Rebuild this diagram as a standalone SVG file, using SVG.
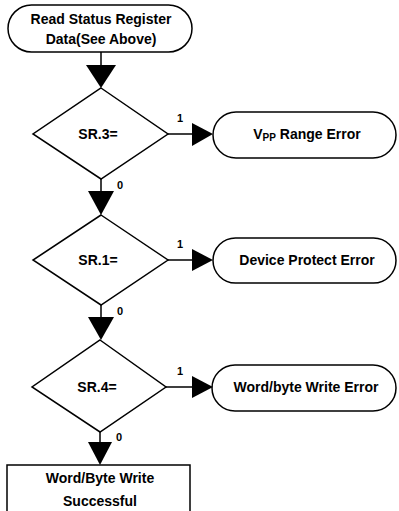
<svg xmlns="http://www.w3.org/2000/svg" width="399" height="511" viewBox="0 0 399 511">
<style>
.s{fill:none;stroke:#000;stroke-width:1.5}
.h{fill:#000;stroke:none}
text{font-family:"Liberation Sans",Arial,sans-serif;font-weight:bold;font-size:14px;fill:#000;text-anchor:middle}
.l{font-size:11px;text-anchor:start}
</style>
<rect width="399" height="511" fill="#fff"/>
<g id="start"><rect class="s" x="8" y="5" width="184" height="47" rx="23.5"/><text x="101" y="24">Read Status Register</text><text x="101" y="44">Data(See Above)</text></g>
<g id="sr3"><polygon class="s" points="101,88 168,134 101,179 33,134"/><text x="98" y="139">SR.3=</text></g>
<g id="vpp"><rect class="s" x="213" y="112" width="183" height="46" rx="23"/><text x="307" y="139">V<tspan font-size="10" dy="2">PP</tspan><tspan dy="-2"> Range Error</tspan></text></g>
<g id="sr1"><polygon class="s" points="101,215 168,260 101,305 33,260"/><text x="98" y="265">SR.1=</text></g>
<g id="dev"><rect class="s" x="213" y="238" width="183" height="45" rx="22.5"/><text x="307" y="265">Device Protect Error</text></g>
<g id="sr4"><polygon class="s" points="100,340 166,387 100,432 32,387"/><text x="97" y="392">SR.4=</text></g>
<g id="wbe"><rect class="s" x="212" y="365" width="184" height="46" rx="23"/><text x="306" y="392">Word/byte Write Error</text></g>
<g id="ok"><rect class="s" x="7" y="465" width="183" height="60"/><text x="100" y="483">Word/Byte Write</text><text x="100" y="506">Successful</text></g>
<g id="connectors">
<path class="s" d="M101,52V66M101,179V192M101,305V318M100,432V443M168,134H193M168,260H193M166,387H193"/>
<polygon class="h" points="86,65 116,65 101,88"/>
<polygon class="h" points="88,191 114,191 101,215"/>
<polygon class="h" points="88,317 114,317 101,340"/>
<polygon class="h" points="88,442 112,442 100,465"/>
<polygon class="h" points="192,123 192,146 213,134"/>
<polygon class="h" points="192,249 192,271 213,260"/>
<polygon class="h" points="192,376 192,398 213,387"/>
<text class="l" x="177" y="122">1</text>
<text class="l" x="177" y="248">1</text>
<text class="l" x="177" y="375">1</text>
<text class="l" x="117" y="189">0</text>
<text class="l" x="117" y="315">0</text>
<text class="l" x="116" y="441">0</text>
</g>
</svg>
